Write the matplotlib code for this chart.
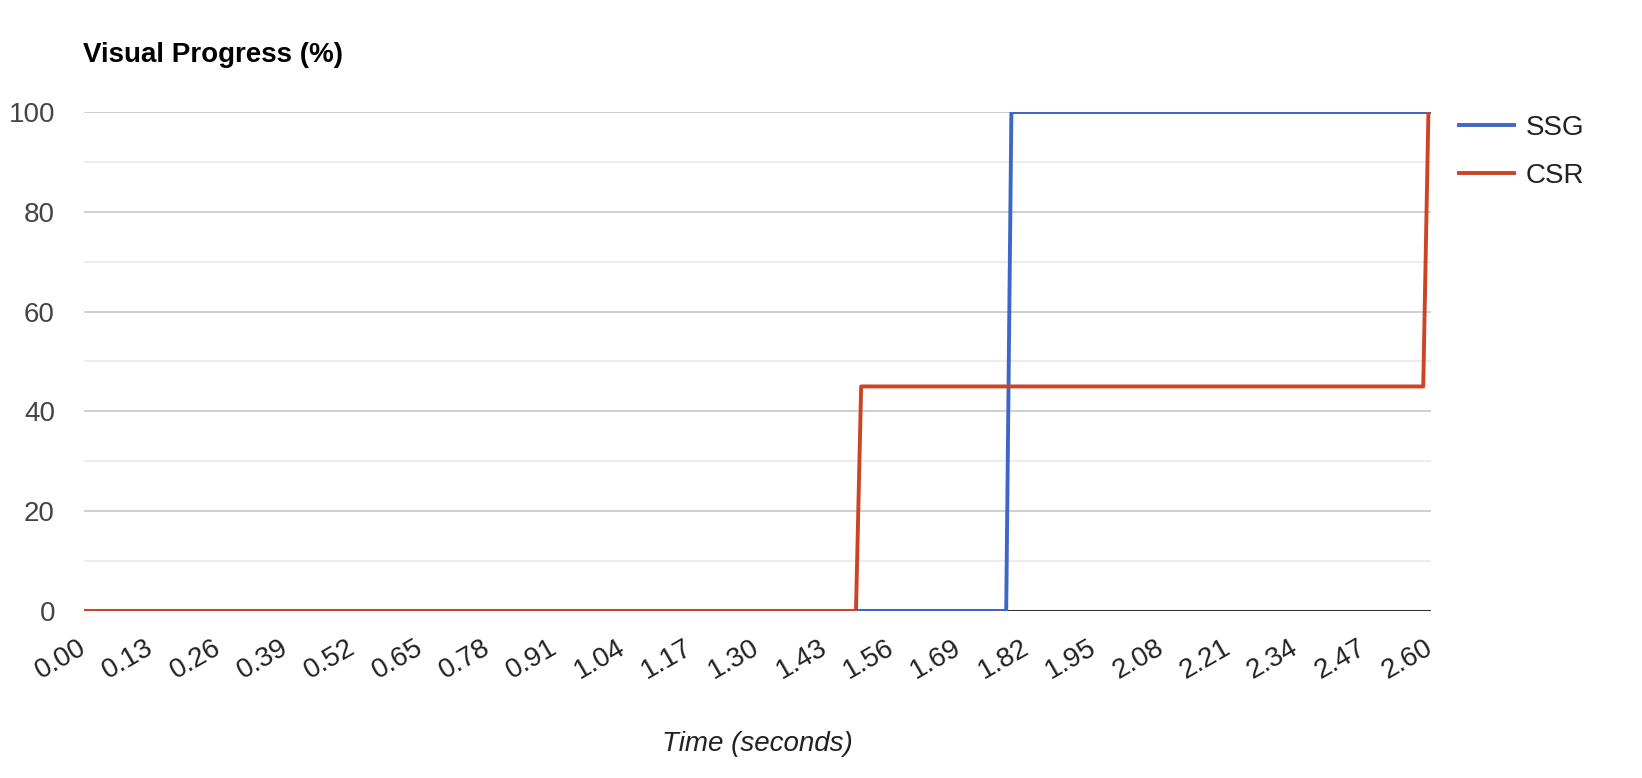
import numpy as np
import matplotlib.pyplot as plt

# --- data ---
ssg_time = [0.00, 1.78, 1.79, 2.60]
ssg_progress = [0, 0, 100, 100]
csr_time = [0.00, 1.49, 1.50, 2.585, 2.595]
csr_progress = [0, 0, 45, 45, 100]

x_ticks = [0.00, 0.13, 0.26, 0.39, 0.52, 0.65, 0.78, 0.91, 1.04, 1.17, 1.30,
           1.43, 1.56, 1.69, 1.82, 1.95, 2.08, 2.21, 2.34, 2.47, 2.60]
x_labels = [f"{t:.2f}" for t in x_ticks]
y_major = [0, 20, 40, 60, 80, 100]
y_minor = [10, 30, 50, 70, 90]

plt.rcParams['font.family'] = ['Liberation Sans', 'DejaVu Sans']

fig = plt.figure(figsize=(16.42, 7.78), dpi=100)
ax = fig.add_axes([0.0512, 0.2147, 0.8203, 0.6413])

# grid lines like google charts
for y in y_minor:
    ax.axhline(y, color='#ebebeb', lw=1.3, zorder=0)
for y in y_major[1:]:
    ax.axhline(y, color='#cccccc', lw=1.3, zorder=0)
ax.axhline(0, color='#333333', lw=1.5, zorder=1)

ax.plot(ssg_time, ssg_progress, color='#3d66c9', lw=2.8, label='SSG', zorder=3)
ax.plot(csr_time, csr_progress, color='#cc4426', lw=2.8, label='CSR', zorder=4)

ax.set_xlim(0, 2.60)
ax.set_ylim(0, 100)
ax.set_xticks(x_ticks)
ax.set_xticklabels(x_labels, rotation=30, ha='right', va='center',
                   rotation_mode='anchor', fontsize=20, color='#222222')
ax.set_yticks(y_major)
ax.set_yticklabels([str(v) for v in y_major], fontsize=20, color='#444444')
ax.tick_params(axis='both', length=0)
ax.tick_params(axis='y', pad=21)
ax.tick_params(axis='x', pad=25)
for s in ax.spines.values():
    s.set_visible(False)

ax.set_xlabel('Time (seconds)', fontsize=20, style='italic', color='#222222', labelpad=34)
fig.text(0.0505, 0.929, 'Visual Progress (%)', fontsize=20, fontweight='bold',
         va='center', ha='left', color='#000000')

ax.legend(loc='upper left', bbox_to_anchor=(1.0, 1.05), frameon=False, fontsize=20,
          handlelength=2.0, handletextpad=0.4, labelspacing=0.8, borderaxespad=0.6,
          labelcolor='#222222')

fig.savefig('out.png', dpi=100)
